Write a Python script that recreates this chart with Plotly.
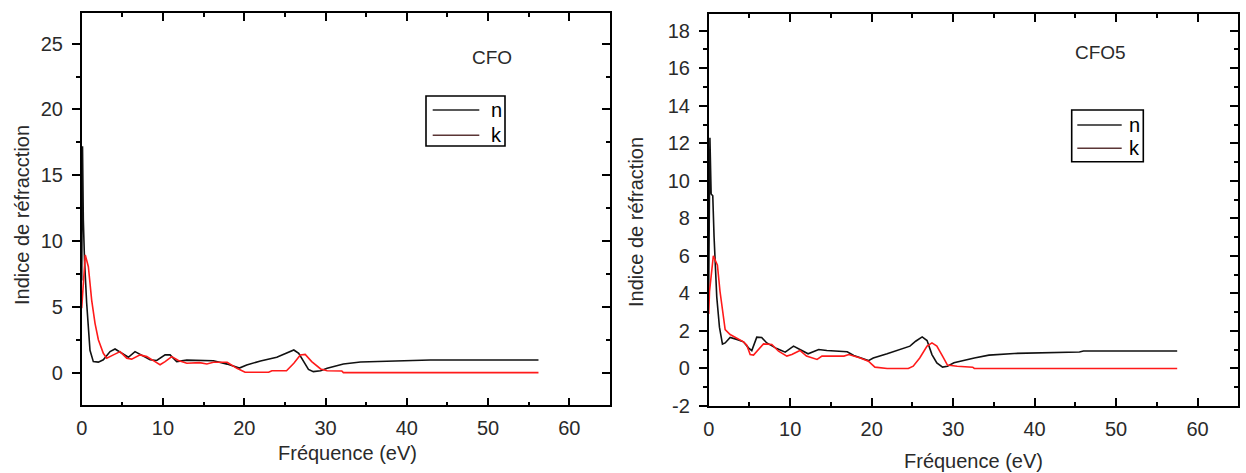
import plotly.graph_objects as go

W, H = 1246, 473

# ---------------- data ----------------
cfo_n_x = [0, 0.1, 0.2, 0.35, 0.61, 0.82, 1.02, 1.43, 2.05, 2.66, 3.49, 4.1, 4.72, 5.74, 6.56, 7.38,
           8.41, 9.23, 10.26, 10.87, 11.69, 12.93, 16.2, 17.9, 19.4, 20.3, 22.0, 24.0, 25.2, 26.1,
           26.7, 27.3, 27.9, 28.5, 29.4, 30.2, 32.2, 34.3, 40.0, 42.9, 56.2]
cfo_n_y = [7.0, 17.2, 11.6, 8.5, 5.3, 3.5, 1.7, 0.84, 0.8, 0.98, 1.6, 1.8, 1.55, 1.17, 1.6, 1.35,
           0.98, 0.93, 1.35, 1.35, 0.84, 0.95, 0.9, 0.65, 0.35, 0.58, 0.89, 1.17, 1.47, 1.72,
           1.47, 0.84, 0.25, 0.08, 0.15, 0.33, 0.66, 0.81, 0.91, 0.96, 0.96]

cfo_k_x = [0, 0.44, 0.82, 1.23, 1.64, 2.05, 2.66, 3.08, 3.9, 4.72, 5.54, 6.15, 7.18, 8.0, 9.02,
           9.64, 10.26, 11.08, 11.9, 12.93, 14.5, 15.4, 16.2, 17.9, 19.1, 20.1, 23.0, 23.4, 25.2,
           26.1, 26.9, 27.5, 28.3, 29.4, 30.2, 32.0, 32.2, 56.2]
cfo_k_y = [4.9, 8.95, 8.05, 5.5, 3.75, 2.5, 1.47, 1.1, 1.35, 1.6, 1.1, 1.03, 1.35, 1.22, 0.84,
           0.6, 0.84, 1.22, 0.93, 0.72, 0.76, 0.66, 0.79, 0.79, 0.33, 0.03, 0.03, 0.15, 0.15,
           0.71, 1.34, 1.39, 0.84, 0.28, 0.15, 0.13, 0.0, 0.0]

cfo5_n_x = [0, 0.15, 0.3, 0.5, 0.66, 0.99, 1.32, 1.69, 2.02, 2.63, 3.45, 4.27, 4.88, 5.29, 5.9,
            6.5, 7.13, 8.36, 9.39, 10.41, 11.2, 12.2, 13.5, 14.5, 17.0, 17.8, 19.6, 20.2, 21.9,
            23.5, 24.7, 25.4, 26.2, 26.8, 27.4, 28.0, 28.7, 29.3, 30.1, 32.6, 34.4, 37.5, 42.0,
            45.5, 46.0, 57.5]
cfo5_n_y = [4.2, 12.3, 9.3, 9.2, 7.0, 3.8, 2.2, 1.3, 1.36, 1.65, 1.55, 1.42, 1.1, 0.95, 1.67,
            1.65, 1.36, 1.06, 0.87, 1.19, 1.01, 0.78, 1.01, 0.96, 0.89, 0.69, 0.42, 0.56, 0.78,
            1.01, 1.19, 1.45, 1.68, 1.49, 0.74, 0.30, 0.07, 0.12, 0.30, 0.56, 0.71, 0.80, 0.83,
            0.88, 0.93, 0.93]

cfo5_k_x = [0, 0.1, 0.57, 1.07, 1.39, 1.68, 2.02, 2.63, 3.45, 4.27, 4.68, 5.09, 5.5, 6.11, 6.73,
            7.75, 8.57, 9.59, 10.2, 11.2, 12.0, 13.3, 13.9, 16.6, 17.2, 18.6, 19.6, 20.4, 21.9,
            24.5, 25.1, 25.9, 26.8, 27.4, 28.0, 28.7, 29.3, 30.5, 32.4, 32.6, 57.5]
cfo5_k_y = [2.9, 4.1, 6.0, 5.5, 4.1, 3.05, 2.07, 1.81, 1.63, 1.42, 1.24, 0.74, 0.71, 1.01, 1.31,
            1.28, 0.92, 0.66, 0.74, 0.96, 0.66, 0.48, 0.66, 0.66, 0.74, 0.56, 0.39, 0.07, 0.0,
            0.0, 0.12, 0.56, 1.19, 1.36, 1.19, 0.66, 0.18, 0.12, 0.07, 0.0, 0.0]

# tick labels
x_tick_vals = [0, 10, 20, 30, 40, 50, 60]
x_tick_text = ["0", "10", "20", "30", "40", "50", "60"]
cfo_y_tick_vals = [0, 5, 10, 15, 20, 25]
cfo_y_tick_text = ["0", "5", "10", "15", "20", "25"]
cfo5_y_tick_vals = [-2, 0, 2, 4, 6, 8, 10, 12, 14, 16, 18]
cfo5_y_tick_text = ["-2", "0", "2", "4", "6", "8", "10", "12", "14", "16", "18"]

panel_labels = ["CFO", "CFO5"]
legend_labels = ["n", "k"]
x_title = "Fréquence (eV)"
y_titles = ["Indice de réfracction", "Indice de réfraction"]

# ---------------- helpers ----------------
def px(x):
    return x / W

def py(y):
    return 1 - y / H

FONT = "Liberation Sans, Arial, sans-serif"
TXT = "#2a2a2a"
N_COLOR = "#111111"
K_COLOR = "#ff1a1a"
LEG_K = "#5a3535"

fig = go.Figure()

fig.add_trace(go.Scatter(x=cfo_n_x, y=cfo_n_y, mode="lines", line=dict(color=N_COLOR, width=1.6),
                         xaxis="x", yaxis="y", showlegend=False))
fig.add_trace(go.Scatter(x=cfo_k_x, y=cfo_k_y, mode="lines", line=dict(color=K_COLOR, width=1.6),
                         xaxis="x", yaxis="y", showlegend=False))
fig.add_trace(go.Scatter(x=cfo5_n_x, y=cfo5_n_y, mode="lines", line=dict(color=N_COLOR, width=1.6),
                         xaxis="x2", yaxis="y2", showlegend=False))
fig.add_trace(go.Scatter(x=cfo5_k_x, y=cfo5_k_y, mode="lines", line=dict(color=K_COLOR, width=1.6),
                         xaxis="x2", yaxis="y2", showlegend=False))
# empty traces to activate the right-hand tick axes
fig.add_trace(go.Scatter(x=[], y=[], xaxis="x", yaxis="y3", showlegend=False, hoverinfo="skip"))
fig.add_trace(go.Scatter(x=[], y=[], xaxis="x2", yaxis="y4", showlegend=False, hoverinfo="skip"))

dom_x1 = [px(81.7), px(610)]
dom_x2 = [px(708.7), px(1238.3)]
dom_y1 = [py(405.3), py(13.3)]
dom_y2 = [py(406), py(14)]

yr1 = [-2.48, 27.31]
yr2 = [-2.0, 18.89]

tickfont = dict(family=FONT, size=20, color=TXT)

def xax(domain, anchor):
    return dict(domain=domain, anchor=anchor, range=[0, 65], automargin=False,
                tickmode="array", tickvals=x_tick_vals, ticktext=x_tick_text,
                ticks="inside", ticklen=8, tickwidth=1.5, tickcolor="black",
                minor=dict(dtick=5, tick0=0, ticks="inside", ticklen=4, tickwidth=1.5, tickcolor="black"),
                showline=True, linecolor="black", linewidth=1.6, mirror="ticks",
                showgrid=False, zeroline=False, tickfont=tickfont, ticklabelstandoff=4)

def yax(domain, anchor, rng, tv, tt, mdt):
    return dict(domain=domain, anchor=anchor, range=rng, automargin=False,
                tickmode="array", tickvals=tv, ticktext=tt,
                ticks="outside", ticklen=8, tickwidth=1.5, tickcolor="black",
                minor=dict(dtick=mdt, tick0=0, ticks="outside", ticklen=4, tickwidth=1.5, tickcolor="black"),
                showline=True, linecolor="black", linewidth=1.6, mirror=True,
                showgrid=False, zeroline=False, tickfont=tickfont, ticklabelstandoff=5)

def yright(overlay, anchor, rng, tv, mdt):
    return dict(overlaying=overlay, anchor=anchor, side="right", range=rng, automargin=False,
                tickmode="array", tickvals=tv,
                ticks="inside", ticklen=8, tickwidth=1.5, tickcolor="black",
                minor=dict(dtick=mdt, tick0=0, ticks="inside", ticklen=4, tickwidth=1.5, tickcolor="black"),
                showline=False, showgrid=False, zeroline=False, showticklabels=False)

fig.update_layout(
    width=W, height=H,
    margin=dict(l=0, r=0, t=0, b=0),
    paper_bgcolor="white", plot_bgcolor="white",
    xaxis=xax(dom_x1, "y"),
    yaxis=yax(dom_y1, "x", yr1, cfo_y_tick_vals, cfo_y_tick_text, 2.5),
    xaxis2=xax(dom_x2, "y2"),
    yaxis2=yax(dom_y2, "x2", yr2, cfo5_y_tick_vals, cfo5_y_tick_text, 1),
    yaxis3=yright("y", "x", yr1, cfo_y_tick_vals, 2.5),
    yaxis4=yright("y2", "x2", yr2, cfo5_y_tick_vals, 1),
)

ann = []
# axis titles
ann.append(dict(x=px(347), y=py(453), text=x_title))
ann.append(dict(x=px(973), y=py(461), text=x_title))
ann.append(dict(x=px(22), y=py(215), text=y_titles[0], textangle=-90))
ann.append(dict(x=px(636), y=py(222), text=y_titles[1], textangle=-90))
# panel labels
ann.append(dict(x=px(492), y=py(57), text=panel_labels[0], font=dict(family=FONT, size=19, color=TXT)))
ann.append(dict(x=px(1100), y=py(52), text=panel_labels[1], font=dict(family=FONT, size=19, color=TXT)))

# legends
shapes = []
legs = [
    dict(box=(426, 96, 505, 146), lx=(432.7, 479.3), ny=110, ky=135.3, tx=496),
    dict(box=(1071.7, 110, 1143.3, 161.7), lx=(1077.3, 1121.7), ny=125, ky=148.3, tx=1134.3),
]
for L in legs:
    x0, y0, x1, y1 = L["box"]
    shapes.append(dict(type="rect", xref="paper", yref="paper", x0=px(x0), x1=px(x1), y0=py(y1), y1=py(y0),
                       line=dict(color="black", width=1.6), fillcolor="white", layer="above"))
    shapes.append(dict(type="line", xref="paper", yref="paper", x0=px(L["lx"][0]), x1=px(L["lx"][1]),
                       y0=py(L["ny"]), y1=py(L["ny"]), line=dict(color="#222222", width=1.6)))
    shapes.append(dict(type="line", xref="paper", yref="paper", x0=px(L["lx"][0]), x1=px(L["lx"][1]),
                       y0=py(L["ky"]), y1=py(L["ky"]), line=dict(color=LEG_K, width=1.6)))
    ann.append(dict(x=px(L["tx"]), y=py(L["ny"]), text=legend_labels[0], font=dict(family=FONT, size=20, color="black")))
    ann.append(dict(x=px(L["tx"]), y=py(L["ky"]), text=legend_labels[1], font=dict(family=FONT, size=20, color="black")))

for a in ann:
    a.setdefault("font", dict(family=FONT, size=20, color=TXT))
    a.update(xref="paper", yref="paper", showarrow=False, xanchor="center", yanchor="middle")

fig.update_layout(annotations=ann, shapes=shapes)

fig.write_html(
    "out.html",
    config={"displayModeBar": False},
    post_script="document.body.style.margin='0';document.body.style.overflow='hidden';",
)
